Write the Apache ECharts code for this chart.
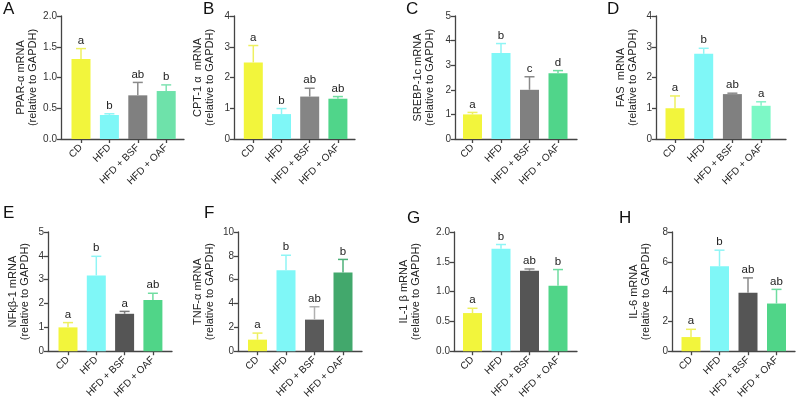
<!DOCTYPE html>
<html>
<head>
<meta charset="utf-8">
<script src="https://cdn.jsdelivr.net/npm/echarts@6/dist/echarts.min.js"></script>
<style>
  html, body { margin: 0; padding: 0; background: #fff; }
  #chart { width: 797px; height: 401px; }
</style>
</head>
<body>
<div id="chart"></div>
<script>
// groups on the x axis
const groups = ['CD', 'HFD', 'HFD + BSF', 'HFD + OAF']

// A: PPAR-α
const pparMean = [1.30, 0.39, 0.71, 0.78]
const pparSd = [0.17, 0.02, 0.21, 0.10]
const pparSig = ['a', 'b', 'ab', 'b']
// B: CPT-1 α
const cptMean = [2.49, 0.81, 1.38, 1.31]
const cptSd = [0.55, 0.18, 0.27, 0.07]
const cptSig = ['a', 'b', 'ab', 'ab']
// C: SREBP-1c
const srebpMean = [1.00, 3.50, 2.00, 2.67]
const srebpSd = [0.08, 0.38, 0.53, 0.11]
const srebpSig = ['a', 'b', 'c', 'd']
// D: FAS
const fasMean = [1.00, 2.77, 1.46, 1.08]
const fasSd = [0.40, 0.18, 0.03, 0.13]
const fasSig = ['a', 'b', 'ab', 'a']
// E: NFkβ-1
const nfkbMean = [1.00, 3.18, 1.57, 2.15]
const nfkbSd = [0.20, 0.80, 0.10, 0.28]
const nfkbSig = ['a', 'b', 'a', 'ab']
// F: TNF-α
const tnfMean = [0.97, 6.80, 2.65, 6.60]
const tnfSd = [0.55, 1.25, 1.08, 1.10]
const tnfSig = ['a', 'b', 'ab', 'b']
// G: IL-1 β
const il1Mean = [0.64, 1.72, 1.35, 1.10]
const il1Sd = [0.08, 0.07, 0.03, 0.27]
const il1Sig = ['a', 'b', 'ab', 'b']
// H: IL-6
const il6Mean = [0.95, 5.70, 3.92, 3.20]
const il6Sd = [0.52, 1.08, 1.00, 0.95]
const il6Sig = ['a', 'b', 'ab', 'ab']

const FONT = '"Liberation Sans", Arial, sans-serif'
const YEL = '#F2F53C', CYA = '#7FF7F7'

// layout + style per panel
const panels = [
  { tag: 'A', name: 'PPAR-α mRNA', mean: pparMean, sd: pparSd, sig: pparSig,
    left: 61, right: 184, c0: 81, step: 28.4, top: 16, max: 2, interval: 0.5, dec: 1, gap: 22,
    colors: [YEL, CYA, '#808080', '#6EE2AA'], errColors: ['#EEF060', '#8FF5F5', '#8A8A8A', '#7FE3B2'], tagPos: [3, 1] },
  { tag: 'B', name: 'CPT-1 α  mRNA', mean: cptMean, sd: cptSd, sig: cptSig,
    left: 234, right: 355, c0: 253.3, step: 28.2, top: 16, max: 4, interval: 1, dec: 0, gap: 18,
    colors: [YEL, CYA, '#858585', '#50D58A'], errColors: ['#EEF060', '#8FF5F5', '#8A8A8A', '#6FDDA0'], tagPos: [203, 1] },
  { tag: 'C', name: 'SREBP-1c mRNA', mean: srebpMean, sd: srebpSd, sig: srebpSig,
    left: 455, right: 577, c0: 472.5, step: 28.5, top: 16, max: 5, interval: 1, dec: 0, gap: 19,
    colors: [YEL, CYA, '#808080', '#50D58A'], errColors: ['#EEF060', '#8FF5F5', '#8A8A8A', '#6FDDA0'], tagPos: [406, 1] },
  { tag: 'D', name: 'FAS  mRNA', mean: fasMean, sd: fasSd, sig: fasSig,
    left: 656, right: 786, c0: 675, step: 28.7, top: 16, max: 4, interval: 1, dec: 0, gap: 17,
    colors: [YEL, CYA, '#808080', '#7DF8C6'], errColors: ['#EEF060', '#8FF5F5', '#8A8A8A', '#86F2C8'], tagPos: [607, 1] },
  { tag: 'E', name: 'NFkβ-1 mRNA', mean: nfkbMean, sd: nfkbSd, sig: nfkbSig,
    left: 48, right: 172, c0: 68, step: 28.3, top: 232, max: 5, interval: 1, dec: 0, gap: 17,
    colors: [YEL, CYA, '#555555', '#50D588'], errColors: ['#EEF060', '#8FF5F5', '#7A7A7A', '#6FDDA0'], tagPos: [3, 205] },
  { tag: 'F', name: 'TNF-α mRNA', mean: tnfMean, sd: tnfSd, sig: tnfSig,
    left: 238, right: 362, c0: 257.5, step: 28.5, top: 232, max: 10, interval: 2, dec: 0, gap: 22,
    colors: [YEL, CYA, '#5A5A5A', '#42A86C'], errColors: ['#EEF060', '#8FF5F5', '#B0B0B0', '#4CB079'], tagPos: [204, 205] },
  { tag: 'G', name: 'IL-1 β mRNA', mean: il1Mean, sd: il1Sd, sig: il1Sig,
    left: 454, right: 577, c0: 472.5, step: 28.5, top: 232, max: 2, interval: 0.5, dec: 1, gap: 32,
    colors: [YEL, CYA, '#555555', '#50D588'], errColors: ['#EEF060', '#8FF5F5', '#8A8A8A', '#6FDDA0'], tagPos: [407, 210] },
  { tag: 'H', name: 'IL-6 mRNA', mean: il6Mean, sd: il6Sd, sig: il6Sig,
    left: 672, right: 795, c0: 691, step: 28.5, top: 232, max: 8, interval: 2, dec: 0, gap: 20,
    colors: [YEL, CYA, '#555555', '#50D588'], errColors: ['#EEF060', '#8FF5F5', '#8A8A8A', '#6FDDA0'], tagPos: [619, 210] }
]

const chart = echarts.init(document.getElementById('chart'), null, { renderer: 'canvas' })

const grid = [], xAxis = [], yAxis = [], series = [], graphic = []
const idx = [0, 1, 2, 3]

panels.forEach((p, i) => {
  grid.push({ left: p.left, top: p.top, width: p.right - p.left, height: 123 })
  xAxis.push({
    type: 'value', gridIndex: i,
    min: (p.left - p.c0) / p.step,
    max: (p.right - p.c0) / p.step,
    splitLine: { show: false },
    axisLine: { show: true, onZero: false, lineStyle: { color: '#444', width: 1.3 } },
    axisTick: { show: true, customValues: idx, length: 4, lineStyle: { color: '#444', width: 1.3 } },
    axisLabel: {
      customValues: idx, rotate: 45, fontSize: 10, color: '#222', fontFamily: FONT, margin: 7,
      formatter: v => groups[Math.round(v)]
    }
  })
  yAxis.push({
    type: 'value', gridIndex: i, min: 0, max: p.max, interval: p.interval,
    name: p.name + '\n(relative to GAPDH)',
    nameLocation: 'middle', nameGap: p.gap, nameRotate: 90,
    nameTextStyle: { fontSize: 11, lineHeight: 12, color: '#222', fontFamily: FONT },
    splitLine: { show: false },
    axisLine: { show: true, onZero: false, lineStyle: { color: '#444', width: 1.3 } },
    axisTick: { show: true, length: 4, lineStyle: { color: '#444', width: 1.3 } },
    axisLabel: { fontSize: 10, color: '#333', fontFamily: FONT, margin: 4,
      formatter: v => v.toFixed(p.dec) }
  })
  series.push({
    type: 'bar', xAxisIndex: i, yAxisIndex: i, barWidth: 19,
    data: p.mean.map((m, k) => ({ value: [k, m], itemStyle: { color: p.colors[k] } })),
    silent: true
  })
  series.push({
    type: 'custom', xAxisIndex: i, yAxisIndex: i, z: 3, silent: true,
    data: p.mean.map((m, k) => [k, m, p.sd[k]]),
    renderItem: (params, api) => {
      const k = params.dataIndex
      const x = api.value(0), m = api.value(1), s = api.value(2)
      const base = api.coord([x, m])
      const tip = api.coord([x, m + s])
      const stroke = { stroke: p.errColors[k], lineWidth: 1.5 }
      return {
        type: 'group',
        children: [
          { type: 'line', shape: { x1: base[0], y1: base[1], x2: tip[0], y2: tip[1] }, style: stroke },
          { type: 'line', shape: { x1: tip[0] - 5, y1: tip[1], x2: tip[0] + 5, y2: tip[1] }, style: stroke },
          { type: 'text', x: tip[0], y: tip[1] - 2,
            style: { text: p.sig[k], fill: '#222', font: '11.5px ' + FONT, textAlign: 'center', textVerticalAlign: 'bottom' } }
        ]
      }
    }
  })
  graphic.push({
    type: 'text', left: p.tagPos[0], top: p.tagPos[1],
    style: { text: p.tag, fill: '#111', font: '17px ' + FONT }
  })
})

chart.setOption({
  animation: false,
  backgroundColor: '#fff',
  grid, xAxis, yAxis, series, graphic
})
</script>
</body>
</html>
